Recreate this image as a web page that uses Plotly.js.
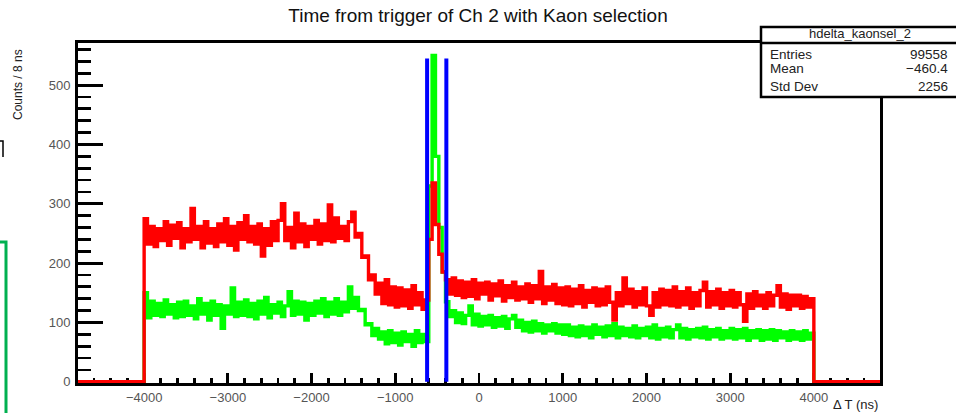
<!DOCTYPE html>
<html>
<head>
<meta charset="utf-8">
<script src="https://cdn.plot.ly/plotly-3.0.1.min.js"></script>
<style>
html,body{margin:0;padding:0;background:#fff;}
#chart{width:956px;height:413px;}
</style>
</head>
<body>
<div id="chart"></div>
<script>
// ---- data ----
const histLow = -4800, histHigh = 4800;     // histogram range (ns)
const binStart = -4000, binWidth = 40;      // filled region, bin width used here
const redCounts = [
  275,232,262,228,258,238,270,230,264,242,
  268,226,258,236,292,240,262,226,270,234,
  258,228,266,236,275,230,262,222,268,240,
  280,236,262,232,266,212,258,230,270,238,
  272,300,238,260,226,284,236,266,228,262,
  240,272,232,266,238,298,236,276,242,262,
  238,270,286,
  244,250,210,212,172,180,148,166,
  132,172,130,160,126,158,128,155,124,162,130,150,122,138,
  240,335,265,215,185,172,148,
  175,146,170,142,168,144,172,140,166,148,
  168,138,165,145,170,136,162,142,168,138,
  160,140,165,134,162,140,186,132,160,138,
  164,132,158,
  130,160,128,156,132,162,126,154,134,158,
  128,156,130,160,134,104,150,128,175,132,
  156,126,152,130,158,128,112,150,126,156,
  130,154,128,160,126,152,130,158,124,150,
  128,154,168,126,152,130,156,124,150,128,
  154,126,150,130,102,148,124,152,128,146,
  124,150,128,146,162,126,148,122,146,128,
  146,124,144,126,140
];
const greenCounts = [
  150,108,136,112,132,110,138,114,130,108,
  134,110,136,112,128,106,140,114,132,104,
  136,112,130,90,128,114,158,110,134,112,
  138,110,132,106,136,114,142,108,130,116,
  134,110,128,152,112,136,114,134,104,132,
  112,136,116,140,110,134,114,140,112,134,
  118,160,124,
  142,120,122,96,98,78,90,72,
  84,64,86,66,82,62,84,68,80,60,86,66,80,68,
  330,550,380,260,185,135,110,
  120,100,116,98,112,128,96,114,94,110,
  96,112,92,108,94,110,90,106,112,92,
  104,86,100,84,102,86,98,82,96,86,
  98,82,96,
  80,96,78,92,76,94,78,92,74,96,
  80,92,76,94,78,98,74,92,78,90,
  76,94,74,90,78,92,74,96,72,90,
  76,92,74,88,96,74,90,72,88,76,
  90,74,92,72,88,76,90,72,86,74,
  90,72,88,74,90,70,86,74,88,70,
  86,72,88,70,86,74,84,70,86,72,
  84,70,86,72,82
];
const cutEdges = [-620, -390];   // blue selection window (ns)
const cutHeight = 545;
const xTickVals = [-4000,-3000,-2000,-1000,0,1000,2000,3000,4000];
const yTickVals = [0,100,200,300,400,500];
const titleText = 'Time from trigger of Ch 2 with Kaon selection';
const xTitle = '\u0394 T (ns)';
const yTitle = 'Counts / 8 ns';
const statsName = 'hdelta_kaonsel_2';
const statsLabels = ['Entries','Mean','Std Dev'];
const statsValues = ['99558','\u2212460.4','2256'];

// ---- build step outlines from the bin arrays ----
function histXY(counts){
  const xs=[histLow], ys=[0];
  for(let i=0;i<counts.length;i++){ xs.push(binStart+i*binWidth); ys.push(counts[i]); }
  xs.push(binStart+counts.length*binWidth); ys.push(0);
  xs.push(histHigh); ys.push(0);
  return {xs, ys};
}
const g = histXY(greenCounts), r = histXY(redCounts);

const traces = [
  {x:g.xs, y:g.ys, type:'scatter', mode:'lines', line:{shape:'hv', color:'#00ff00', width:3.4}, hoverinfo:'skip'},
  {x:r.xs, y:r.ys, type:'scatter', mode:'lines', line:{shape:'hv', color:'#ff0000', width:3.4}, hoverinfo:'skip'}
];
cutEdges.forEach(c=>{
  traces.push({x:[c,c], y:[0,cutHeight], type:'scatter', mode:'lines', line:{color:'#0000ff', width:4}, hoverinfo:'skip'});
});

// ---- layout helpers (pixel -> paper) ----
const L=78, R=76, T=43, B=30, W=956, H=413;
const pw=W-L-R, ph=H-T-B;
const px2x = p => (p-L)/pw;
const py2y = p => (H-B-p)/ph;
const font = 'Liberation Sans, Arial, Helvetica, sans-serif';

const annotations = [
  {text:xTitle, xref:'paper', yref:'paper', x:1, y:py2y(404), xanchor:'right', yanchor:'middle', showarrow:false, font:{family:font, size:13, color:'#222'}},
  {text:yTitle, xref:'paper', yref:'paper', x:px2x(18), y:py2y(85), xanchor:'center', yanchor:'middle', textangle:-90, showarrow:false, font:{family:font, size:12, color:'#222'}},
  {text:statsName, xref:'paper', yref:'paper', x:px2x(860), y:py2y(33), xanchor:'center', yanchor:'middle', showarrow:false, font:{family:font, size:13, color:'#222'}}
];
const rowY = [54, 69, 86];
statsLabels.forEach((lab,i)=>{
  annotations.push({text:lab, xref:'paper', yref:'paper', x:px2x(768), y:py2y(rowY[i]), xanchor:'left', yanchor:'middle', showarrow:false, font:{family:font, size:13.5, color:'#222'}});
  annotations.push({text:statsValues[i], xref:'paper', yref:'paper', x:px2x(950), y:py2y(rowY[i]), xanchor:'right', yanchor:'middle', showarrow:false, font:{family:font, size:13.5, color:'#222'}});
});

const shapes = [
  {type:'rect', xref:'paper', yref:'paper', x0:px2x(761), x1:px2x(962), y0:py2y(97), y1:py2y(27), line:{color:'#000', width:2.5}, fillcolor:'#fff', layer:'above'},
  {type:'line', xref:'paper', yref:'paper', x0:px2x(761), x1:px2x(962), y0:py2y(43), y1:py2y(43), line:{color:'#000', width:2.5}, layer:'above'},
  // screenshot artefacts on the left edge
  {type:'path', xref:'paper', yref:'paper', path:'M '+px2x(0)+','+py2y(242)+' L '+px2x(6)+','+py2y(242)+' L '+px2x(6)+','+py2y(420), line:{color:'#00b050', width:3}, layer:'above'},
  {type:'path', xref:'paper', yref:'paper', path:'M '+px2x(0)+','+py2y(141)+' L '+px2x(3)+','+py2y(141)+' L '+px2x(3)+','+py2y(157), line:{color:'#000', width:1.5}, layer:'above'}
];

const layout = {
  width:W, height:H,
  margin:{l:L, r:R, t:T, b:B, pad:0},
  paper_bgcolor:'#fff', plot_bgcolor:'#fff',
  showlegend:false,
  title:{text:titleText, x:0.5, xref:'container', y:1-15/H, yref:'container', yanchor:'middle', xanchor:'center', font:{family:font, size:19, color:'#111'}},
  xaxis:{
    range:[-4790, 4790], tickvals:xTickVals, ticks:'inside', ticklen:10, tickwidth:2.8, tickcolor:'#000',
    minor:{dtick:200, tick0:0, ticks:'inside', ticklen:5, tickwidth:2.8, tickcolor:'#000'},
    showline:true, linecolor:'#000', linewidth:3, mirror:true, showgrid:false, zeroline:false,
    tickfont:{family:font, size:13, color:'#555'}, layer:'below traces'
  },
  yaxis:{
    range:[-2, 571], tickvals:yTickVals, ticks:'inside', ticklen:25, tickwidth:2.8, tickcolor:'#000',
    minor:{dtick:20, tick0:0, ticks:'inside', ticklen:13, tickwidth:2.8, tickcolor:'#000'},
    showline:true, linecolor:'#000', linewidth:3, mirror:true, showgrid:false, zeroline:false,
    tickfont:{family:font, size:13, color:'#555'}, layer:'below traces', ticklabelstandoff:2
  },
  annotations, shapes
};

Plotly.newPlot('chart', traces, layout, {staticPlot:true, displayModeBar:false});
</script>
</body>
</html>
